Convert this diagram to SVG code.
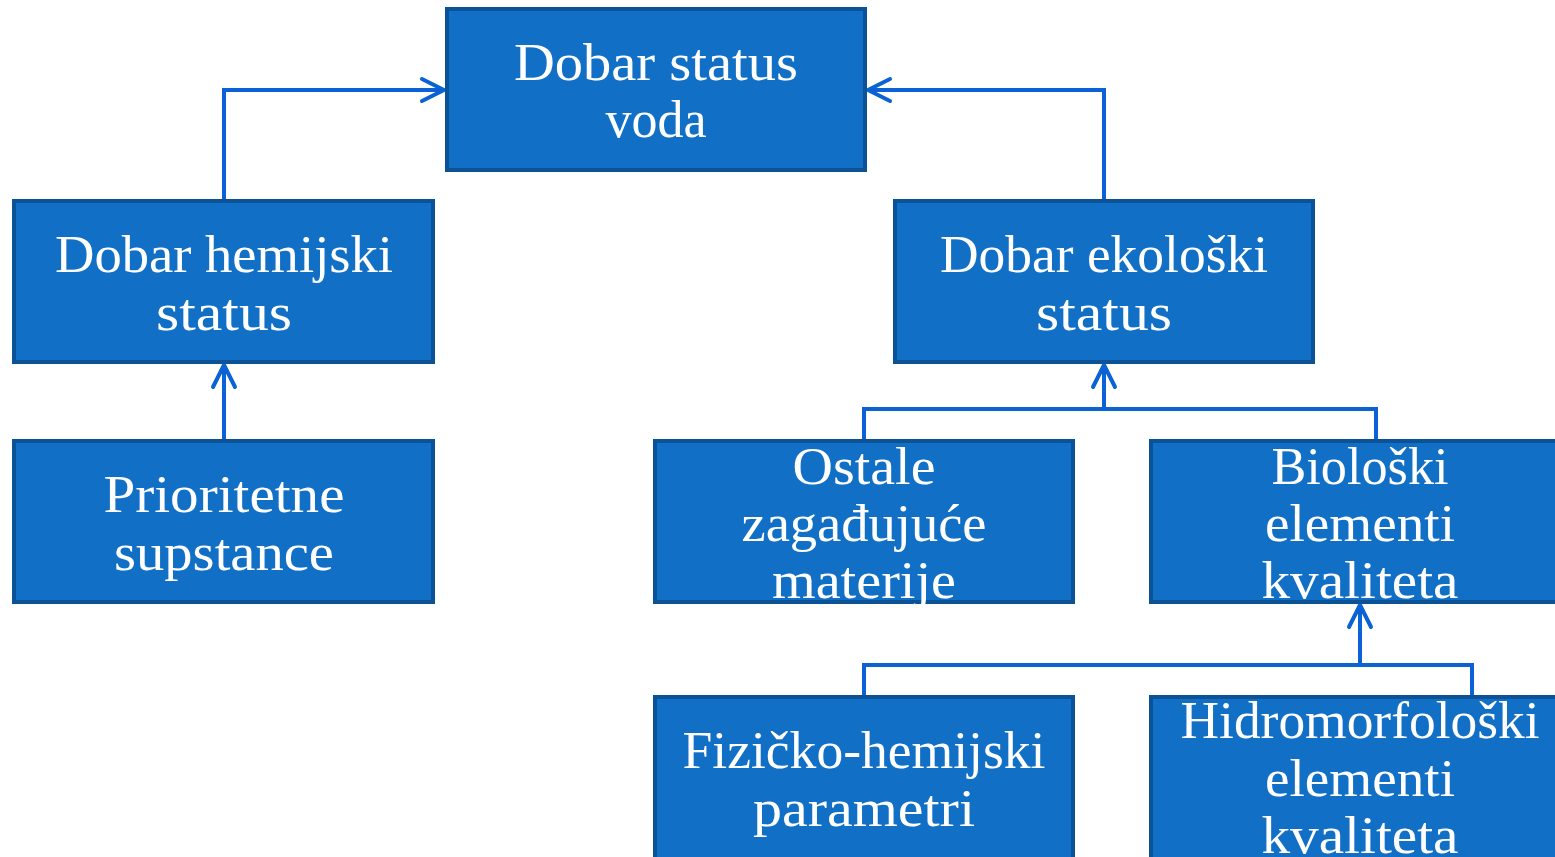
<svg xmlns="http://www.w3.org/2000/svg" width="1555" height="857" viewBox="0 0 1555 857">
  <defs>
    <style>
      .box { fill: #1170C6; stroke: #0B5296; stroke-width: 4; }
      .lbl { fill: #FFFFFF; font-family: "Liberation Serif", "DejaVu Serif", serif; font-size: 52px; text-anchor: middle; }
      .con { fill: none; stroke: #0A62D4; stroke-width: 4; stroke-linejoin: miter; }
    </style>
    <marker id="arr" markerUnits="userSpaceOnUse" markerWidth="30" markerHeight="30" viewBox="-26 -15 30 30" refX="0" refY="0" orient="auto">
      <path d="M-22,-11 L0,0 L-22,11" fill="none" stroke="#0A62D4" stroke-width="4" stroke-linecap="round" stroke-linejoin="round"/>
    </marker>
  </defs>
  <rect width="1555" height="857" fill="#FFFFFF"/>

  <g id="connectors">
    <path class="con" d="M224,201 L224,90 L444,90" marker-end="url(#arr)"/>
    <path class="con" d="M1104,201 L1104,90 L868,90" marker-end="url(#arr)"/>
    <path class="con" d="M224,441 L224,365" marker-end="url(#arr)"/>
    <path class="con" d="M864,441 L864,409 L1376,409 L1376,441"/>
    <path class="con" d="M1104,409 L1104,365" marker-end="url(#arr)"/>
    <path class="con" d="M864,697 L864,665 L1472,665 L1472,697"/>
    <path class="con" d="M1360,665 L1360,605" marker-end="url(#arr)"/>
  </g>

  <g id="node-voda">
    <rect class="box" x="447" y="9" width="418" height="161"/>
    <text class="lbl" x="656" y="80" textLength="284" lengthAdjust="spacingAndGlyphs">Dobar status</text>
    <text class="lbl" x="656" y="137" textLength="101" lengthAdjust="spacingAndGlyphs">voda</text>
  </g>

  <g id="node-hemijski">
    <rect class="box" x="14" y="201" width="419" height="161"/>
    <text class="lbl" x="224" y="272" textLength="338" lengthAdjust="spacingAndGlyphs">Dobar hemijski</text>
    <text class="lbl" x="224" y="330" textLength="136" lengthAdjust="spacingAndGlyphs">status</text>
  </g>

  <g id="node-ekoloski">
    <rect class="box" x="895" y="201" width="418" height="161"/>
    <text class="lbl" x="1104" y="272" textLength="328" lengthAdjust="spacingAndGlyphs">Dobar ekološki</text>
    <text class="lbl" x="1104" y="330" textLength="136" lengthAdjust="spacingAndGlyphs">status</text>
  </g>

  <g id="node-prioritetne">
    <rect class="box" x="14" y="441" width="419" height="161"/>
    <text class="lbl" x="224" y="512" textLength="241" lengthAdjust="spacingAndGlyphs">Prioritetne</text>
    <text class="lbl" x="224" y="570" textLength="220" lengthAdjust="spacingAndGlyphs">supstance</text>
  </g>

  <g id="node-ostale">
    <rect class="box" x="655" y="441" width="418" height="161"/>
    <text class="lbl" x="864" y="484" textLength="143" lengthAdjust="spacingAndGlyphs">Ostale</text>
    <text class="lbl" x="864" y="541" textLength="245" lengthAdjust="spacingAndGlyphs">zagađujuće</text>
    <text class="lbl" x="864" y="598" textLength="184" lengthAdjust="spacingAndGlyphs">materije</text>
  </g>

  <g id="node-bioloski">
    <rect class="box" x="1151" y="441" width="418" height="161"/>
    <text class="lbl" x="1360" y="484" textLength="177" lengthAdjust="spacingAndGlyphs">Biološki</text>
    <text class="lbl" x="1360" y="541" textLength="190" lengthAdjust="spacingAndGlyphs">elementi</text>
    <text class="lbl" x="1360" y="598" textLength="197" lengthAdjust="spacingAndGlyphs">kvaliteta</text>
  </g>

  <g id="node-fizicko">
    <rect class="box" x="655" y="697" width="418" height="168"/>
    <text class="lbl" x="864" y="768" textLength="363" lengthAdjust="spacingAndGlyphs">Fizičko-hemijski</text>
    <text class="lbl" x="864" y="826" textLength="222" lengthAdjust="spacingAndGlyphs">parametri</text>
  </g>

  <g id="node-hidro">
    <rect class="box" x="1151" y="697" width="418" height="168"/>
    <text class="lbl" x="1360" y="738" textLength="359" lengthAdjust="spacingAndGlyphs">Hidromorfološki</text>
    <text class="lbl" x="1360" y="796" textLength="190" lengthAdjust="spacingAndGlyphs">elementi</text>
    <text class="lbl" x="1360" y="853" textLength="197" lengthAdjust="spacingAndGlyphs">kvaliteta</text>
  </g>
</svg>
